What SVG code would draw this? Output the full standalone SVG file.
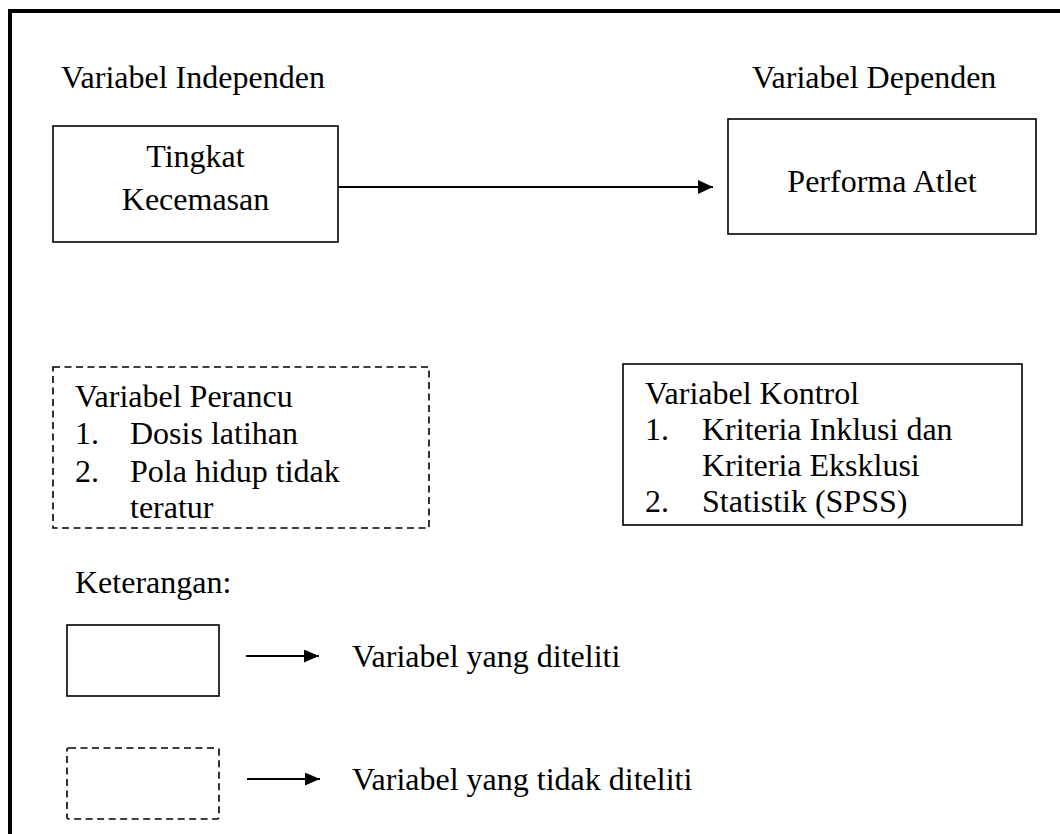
<svg xmlns="http://www.w3.org/2000/svg" width="1060" height="834" viewBox="0 0 1060 834" font-family="'Liberation Serif', 'DejaVu Serif', serif" font-size="32">
<style>
  text { font-family: 'Liberation Serif', 'DejaVu Serif', serif; font-size: 32px; fill: #000; }
  .box { fill: #fff; stroke: #000; stroke-width: 1.6; }
  .dash { fill: #fff; stroke: #000; stroke-width: 1.6; stroke-dasharray: 7 4.5; }
  .conn { stroke: #000; stroke-width: 1.8; fill: none; }
  .mid { text-anchor: middle; }
</style>
<defs>
  <marker id="arr" markerUnits="userSpaceOnUse" markerWidth="16" markerHeight="14" refX="15" refY="7" orient="auto">
    <path d="M0,0 L15,7 L0,14 Z" fill="#000"/>
  </marker>
  <marker id="arrs" markerUnits="userSpaceOnUse" markerWidth="16" markerHeight="13" refX="15" refY="6.5" orient="auto">
    <path d="M0,0 L15,6.5 L0,13 Z" fill="#000"/>
  </marker>
</defs>
<rect width="1060" height="834" fill="#fff"/>
<path d="M10,834 V11 H1060" fill="none" stroke="#000" stroke-width="4"/>

<g id="label-independen"><text x="61" y="88">Variabel Independen</text></g>
<g id="label-dependen"><text x="752" y="88">Variabel Dependen</text></g>

<g id="node-kecemasan">
  <rect class="box" x="53" y="126" width="285" height="116"/>
  <text class="mid" x="195.5" y="167">Tingkat</text>
  <text class="mid" x="195.5" y="210">Kecemasan</text>
</g>

<g id="node-performa">
  <rect class="box" x="728" y="119" width="308" height="115"/>
  <text class="mid" x="882" y="192">Performa Atlet</text>
</g>

<g id="node-perancu">
  <rect class="dash" x="53" y="367" width="376" height="161"/>
  <text x="75" y="407">Variabel Perancu</text>
  <text x="75" y="444">1.</text><text x="130" y="444">Dosis latihan</text>
  <text x="75" y="482">2.</text><text x="130" y="482">Pola hidup tidak</text>
  <text x="130" y="518">teratur</text>
</g>

<g id="node-kontrol">
  <rect class="box" x="623" y="364" width="399" height="161"/>
  <text x="645" y="404">Variabel Kontrol</text>
  <text x="645" y="440">1.</text><text x="702" y="440">Kriteria Inklusi dan</text>
  <text x="702" y="476">Kriteria Eksklusi</text>
  <text x="645" y="512">2.</text><text x="702" y="512">Statistik (SPSS)</text>
</g>

<g id="legend">
  <text x="75" y="593">Keterangan:</text>
  <g id="legend-solid">
    <rect class="box" x="67" y="625" width="152" height="71"/>
    <text x="352" y="667">Variabel yang diteliti</text>
  </g>
  <g id="legend-dashed">
    <rect class="dash" x="67" y="748" width="152" height="71" rx="2"/>
    <text x="352" y="790">Variabel yang tidak diteliti</text>
  </g>
</g>

<g id="connectors">
  <line class="conn" x1="338" y1="187" x2="713" y2="187" marker-end="url(#arr)"/>
  <line class="conn" x1="246" y1="656" x2="319" y2="656" marker-end="url(#arrs)"/>
  <line class="conn" x1="247" y1="779" x2="320" y2="779" marker-end="url(#arrs)"/>
</g>
</svg>
